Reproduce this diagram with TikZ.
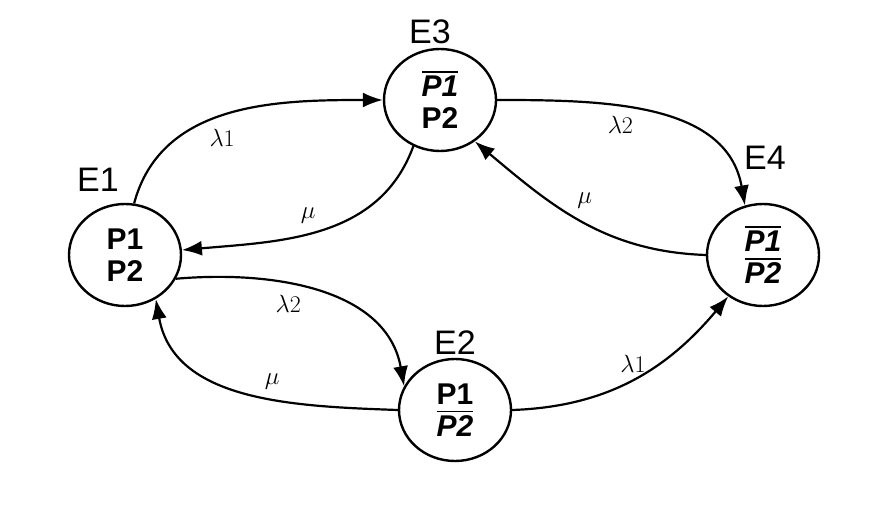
\documentclass[tikz,border=0pt]{standalone}
\usepackage{fontspec}
\setsansfont{Liberation Sans}
\usetikzlibrary{arrows.meta,shapes.geometric}
\tikzset{
  state/.style={draw,line width=2.4pt,ellipse,minimum width=112pt,minimum height=102pt,inner sep=0pt,
    font=\sffamily\bfseries\fontsize{30}{32}\selectfont,align=center},
  statename/.style={font=\sffamily\fontsize{34}{36}\selectfont},
  trans/.style={line width=2.2pt,-{Latex[length=20pt,width=15pt]}},
  rate/.style={font=\fontsize{24}{26}\selectfont}
}
\newcommand{\notp}[1]{\setbox0\hbox{\itshape #1}\rlap{\rule[\dimexpr\ht0+3pt\relax]{\wd0}{1.6pt}}\box0}
\begin{document}
\begin{tikzpicture}[x=1pt,y=-1pt]
  \useasboundingbox (0,0) rectangle (890,526);
  \node[state] (e1) at (125,255) {P1\\P2};
  \node[state] (e3) at (440,100) {\notp{P1}\\P2};
  \node[state] (e4) at (763,255) {\notp{P1}\\\notp{P2}};
  \node[state] (e2) at (455,410) {P1\\\notp{P2}};
  \node[statename] (n1) at (98,180) {E1};
  \node[statename] (n3) at (430,32) {E3};
  \node[statename] (n4) at (765,158) {E4};
  \node[statename] (n2) at (455,343) {E2};
  % transitions
  \draw[trans] (e1.80) to[out=75,in=180] node[rate,pos=0.4,below right=2pt] {$\lambda$1} (e3.west);
  \draw[trans] (e3.240) to[out=250,in=5] node[rate,pos=0.5,above left=2pt] {$\mu$} (e1.5);
  \draw[trans] (e3.east) to[out=0,in=100] node[rate,pos=0.45,below left=2pt] {$\lambda$2} (e4.110);
  \draw[trans] (e4.west) to[out=178,in=-40] node[rate,pos=0.55,above right=2pt] {$\mu$} (e3.310);
  \draw[trans] (e1.-25) to[out=5,in=100] node[rate,pos=0.45,below left=2pt] {$\lambda$2} (e2.155);
  \draw[trans] (e2.west) to[out=178,in=-80] node[rate,pos=0.45,above right=2pt] {$\mu$} (e1.-55);
  \draw[trans] (e2.east) to[out=2,in=230] node[rate,pos=0.5,above=2pt] {$\lambda$1} (e4.230);
\end{tikzpicture}
\end{document}
